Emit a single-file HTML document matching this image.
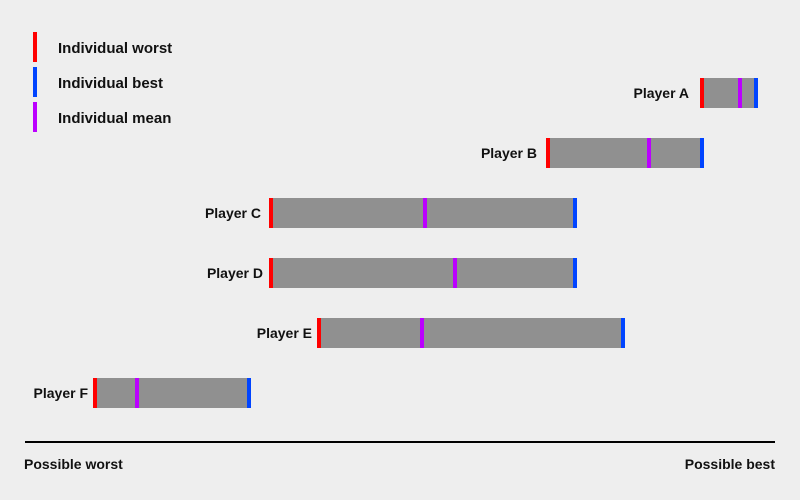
<!DOCTYPE html>
<html><head><style>
body{margin:0;background:#eeeeee;}
svg{display:block;}
text{font-family:"Liberation Sans",sans-serif;font-weight:bold;font-size:14px;fill:#111;}
.lg{font-size:15px;}
</style></head><body>
<svg width="800" height="500" viewBox="0 0 800 500">
<rect width="800" height="500" fill="#eeeeee"/>
<rect x="33" y="32" width="4" height="30" fill="#ff0000"/>
<rect x="33" y="67" width="4" height="30" fill="#0044ff"/>
<rect x="33" y="102" width="4" height="30" fill="#bb00ff"/>
<text class="lg" x="58" y="53">Individual worst</text>
<text class="lg" x="58" y="88">Individual best</text>
<text class="lg" x="58" y="123">Individual mean</text>

<g>
<rect x="700" y="78" width="58" height="30" fill="#909090"/>
<rect x="700" y="78" width="4" height="30" fill="#ff0000"/>
<rect x="738" y="78" width="4" height="30" fill="#bb00ff"/>
<rect x="754" y="78" width="4" height="30" fill="#0044ff"/>
<text x="689" y="98" text-anchor="end">Player A</text>
</g>
<g>
<rect x="546" y="138" width="158" height="30" fill="#909090"/>
<rect x="546" y="138" width="4" height="30" fill="#ff0000"/>
<rect x="647" y="138" width="4" height="30" fill="#bb00ff"/>
<rect x="700" y="138" width="4" height="30" fill="#0044ff"/>
<text x="537" y="158" text-anchor="end">Player B</text>
</g>
<g>
<rect x="269" y="198" width="308" height="30" fill="#909090"/>
<rect x="269" y="198" width="4" height="30" fill="#ff0000"/>
<rect x="423" y="198" width="4" height="30" fill="#bb00ff"/>
<rect x="573" y="198" width="4" height="30" fill="#0044ff"/>
<text x="261" y="218" text-anchor="end">Player C</text>
</g>
<g>
<rect x="269" y="258" width="308" height="30" fill="#909090"/>
<rect x="269" y="258" width="4" height="30" fill="#ff0000"/>
<rect x="453" y="258" width="4" height="30" fill="#bb00ff"/>
<rect x="573" y="258" width="4" height="30" fill="#0044ff"/>
<text x="263" y="278" text-anchor="end">Player D</text>
</g>
<g>
<rect x="317" y="318" width="308" height="30" fill="#909090"/>
<rect x="317" y="318" width="4" height="30" fill="#ff0000"/>
<rect x="420" y="318" width="4" height="30" fill="#bb00ff"/>
<rect x="621" y="318" width="4" height="30" fill="#0044ff"/>
<text x="312" y="338" text-anchor="end">Player E</text>
</g>
<g>
<rect x="93" y="378" width="158" height="30" fill="#909090"/>
<rect x="93" y="378" width="4" height="30" fill="#ff0000"/>
<rect x="135" y="378" width="4" height="30" fill="#bb00ff"/>
<rect x="247" y="378" width="4" height="30" fill="#0044ff"/>
<text x="88" y="398" text-anchor="end">Player F</text>
</g>

<rect x="25" y="441" width="750" height="2" fill="#000"/>
<text x="24" y="469">Possible worst</text>
<text x="775" y="469" text-anchor="end">Possible best</text>
</svg>
</body></html>
